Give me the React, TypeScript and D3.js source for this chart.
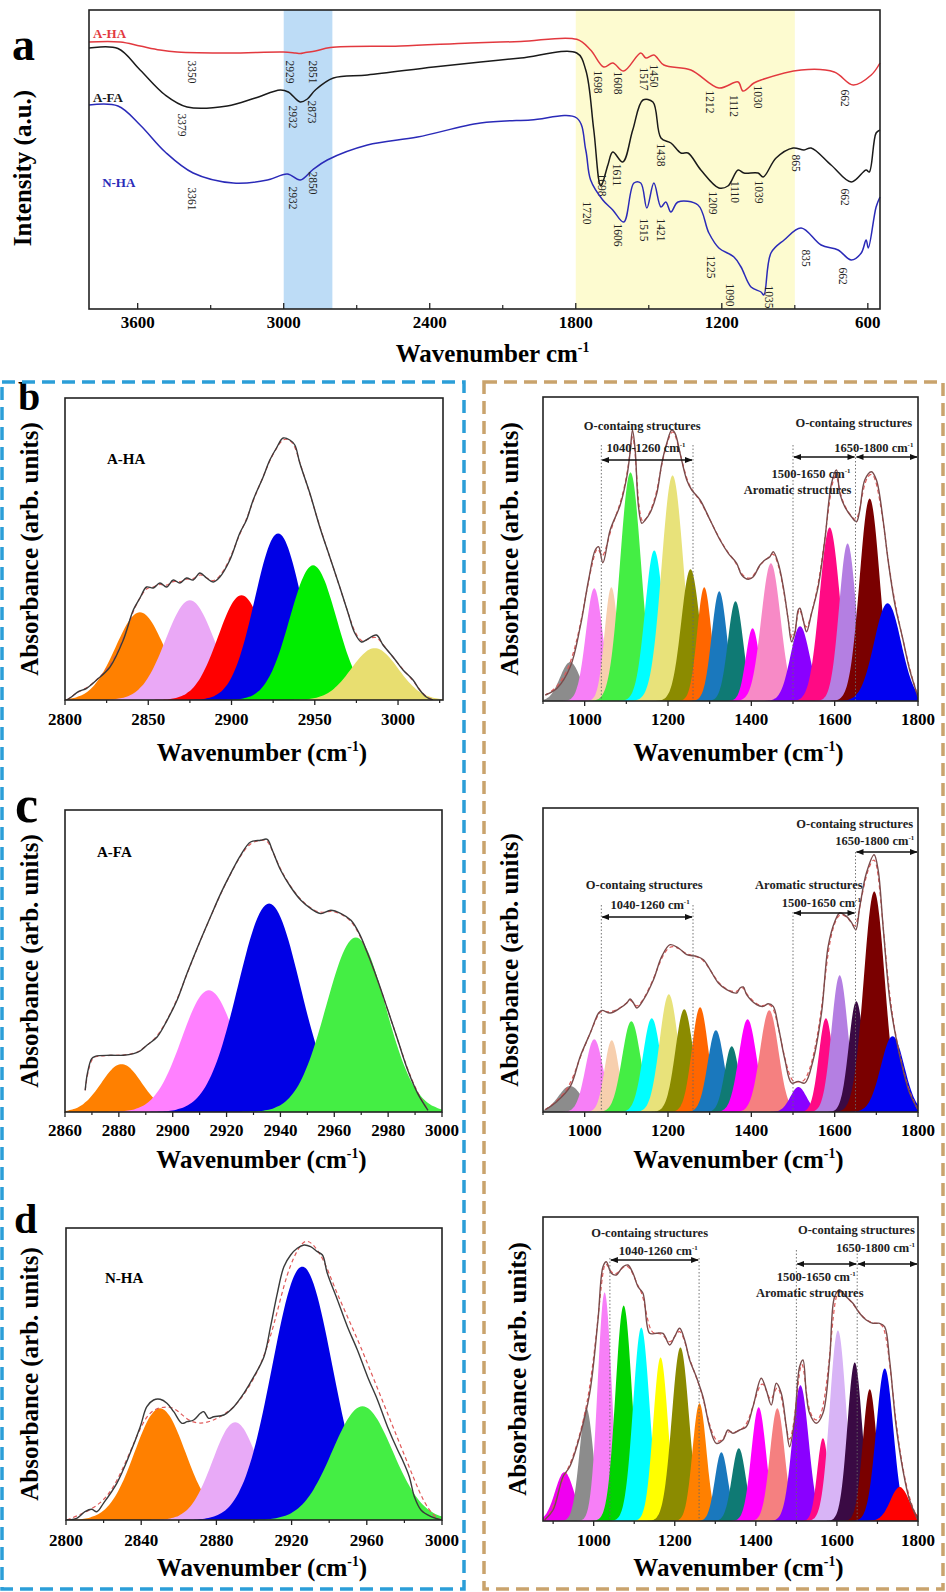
import * as d3 from "d3"
import { useRef, useEffect } from "react"

type P = [number, number]

const serif = "'Liberation Serif','Times New Roman',serif"

// ---------- panel a : FTIR spectra  [wavenumber cm-1, intensity a.u.]
const aHASpectrum: P[] = [[3800,267],[3672,267],[3590,263],[3508,259],[3438,257],[3220,256],[3002,257],[2952,256],[2932,255.5],[2911,256.5],[2870,258],[2808,261.5],[2520,263],[2232,266],[2026,267.5],[1796,269.7],[1739,259],[1685,242],[1648,246],[1603,238],[1533,256],[1512,251],[1479,254],[1438,244],[1327,239],[1212,221],[1133,227],[1113,218],[1068,226],[1039,229],[874,239],[738,237],[660,224],[586,234],[550,246]]
const aFASpectrum: P[] = [[3800,261],[3681,260.5],[3590,239],[3487,214],[3397,202],[3232,203],[3117,211],[3014,219],[2981,217],[2932,207],[2903,210],[2870,219],[2796,231],[2656,234],[2384,242],[2191,247],[2026,251],[1796,256],[1759,239],[1726,179],[1697,123],[1668,144],[1648,157],[1607,147],[1566,179],[1524,209],[1483,207],[1450,171],[1409,166],[1368,156],[1339,156],[1286,139],[1212,121],[1175,123],[1133,139],[1109,136],[1051,136],[1030,132],[977,151],[907,161],[862,159],[833,161],[751,144],[668,127],[607,139],[594,137],[566,176],[550,179]]
const nHASpectrum: P[] = [[3800,204],[3681,203],[3590,184],[3487,157],[3372,136],[3207,126],[3067,129],[2985,135],[2932,129],[2882,139],[2821,149],[2656,164],[2450,172],[2191,186],[1985,189],[1796,191],[1759,159],[1739,129],[1689,109],[1648,99],[1603,87],[1561,126],[1533,126],[1508,101],[1479,126],[1450,102],[1430,107],[1409,97],[1380,107],[1298,104],[1253,76],[1212,61],[1150,52],[1121,42],[1080,22],[1039,17],[1027,14],[998,56],[944,69],[874,81],[792,64],[722,59],[668,49],[627,56],[607,69],[598,61],[566,102],[550,112]]

// band labels: [text, anchor wavenumber, anchor intensity]
const aHABands: [string, number, number][] = [["3350",3376,237],["2929",2973,237],["2851",2878,237],["1698",1710,227],["1608",1627,226],["1517",1520,230],["1450",1479,233],["1212",1249,207],["1112",1150,203],["1030",1051,212],["662",693,211]]
const aFABands: [string, number, number][] = [["3379",3417,184],["2932",2961,192],["2873",2882,197],["1698",1693,124],["1611",1631,134],["1438",1450,154],["1209",1236,106],["1110",1146,117],["1039",1047,117],["865",895,146],["662",693,112]]
const nHABands: [string, number, number][] = [["3361",3376,110],["2932",2961,111],["2850",2878,126],["1720",1755,96],["1606",1627,74],["1515",1520,79],["1421",1450,79],["1225",1245,42],["1090",1166,14],["1035",1006,12],["835",854,51],["662",701,33]]

const aMajorTicks = [3600, 3000, 2400, 1800, 1200, 600]
const aMinorTicks = [3300, 2700, 2100, 1500, 900]

// ---------- fitted panels : observed [wavenumber, absorbance], peaks [centre, height, sigma]
const bLeftObs: P[] = [[2801,0],[2804,3.3],[2808,8.3],[2813,11.7],[2819,20],[2827,33],[2835,60],[2841,90],[2845,102],[2849,113],[2853,112],[2857,117],[2861,113],[2865,120],[2869,117],[2873,122],[2877,120],[2881,127],[2885,122],[2889,118],[2893,123],[2899,140],[2905,167],[2909,180],[2913,200],[2919,223],[2923,240],[2927,252],[2931,262],[2935,260],[2938,255],[2941,237],[2947,207],[2953,173],[2959,143],[2965,113],[2970,87],[2974,67],[2978,58],[2981,60],[2987,65],[2991,55],[2997,43],[3003,30],[3009,20],[3013,10],[3017,3],[3021,0]]
const bLeftPeaks = [[2845,88,14.5],[2875,100,14.5],[2906,105,14],[2928,167,14],[2949,135,14],[2986,52,14]]
const bLeftColors = ["#ff8000","#eaa8f6","#ff0000","#0000e6","#00ee00","#e8de70"]

const bRightObs: P[] = [[905.6,6],[933.5,12.7],[965.5,34.3],[989.4,74.3],[1009.4,121],[1025.4,151],[1033.4,154.3],[1043.7,138.3],[1061.3,171],[1085.3,196],[1101.2,224.3],[1109.2,249.3],[1114.8,271],[1121.2,251],[1129.2,194.3],[1137.2,177.7],[1145.2,181],[1157.1,188.3],[1173.1,207.7],[1185.1,237.7],[1197.1,257.7],[1209.1,271],[1217,267.7],[1229,247.7],[1245,221],[1257,211],[1277,201],[1301,181],[1324.9,161],[1344.8,147.7],[1364.8,137.7],[1376.8,126],[1392.7,121.7],[1404.7,124.3],[1420.7,136],[1432.7,141],[1444.6,144.3],[1452.6,149.3],[1464.6,137.7],[1476.6,114.3],[1488.6,81],[1496.6,59.3],[1504.5,67.7],[1512.5,91],[1516.5,92.7],[1524.5,81],[1532.5,69.3],[1544.5,87.7],[1560.4,114.3],[1576.4,161],[1592.4,217.7],[1604.4,231],[1612.4,207.7],[1624.3,194.3],[1640.3,184.3],[1652.3,179.3],[1660.3,191],[1672.2,221],[1688.2,229.3],[1700.2,221],[1716.2,181],[1728.1,141],[1744.1,97.7],[1764.1,61],[1780.1,31],[1800,4.3]]
const bRightPeaks = [[965,39,24],[1023,113,20],[1064,114,16],[1110,229,25],[1167,151,22],[1211,226,26],[1254,132,22],[1287,114,17],[1323,110,18],[1362,100,18],[1403,73,16],[1447,138,23],[1517,75,23],[1588,174,24],[1631,158,20],[1684,203,24],[1727,98,32]]
const bRightColors = ["#8c8c8c","#f77ff7","#f7cfae","#44ee44","#00ffff","#e8e27a","#8b8b00","#ff6600","#1a78bd","#0f7a74","#ff00ff","#f78ac6","#8a00ff","#ff0a84","#b47fe2","#7a0000","#0000f0"]

const cLeftObs: P[] = [[2867.5,21.7],[2868.3,38.4],[2869.9,53.4],[2871.2,55.7],[2876.8,56.7],[2881.7,56.7],[2885.5,58.4],[2887.9,61],[2890.4,66.7],[2894.2,75],[2897.9,91.7],[2901.6,111.7],[2905.3,138.4],[2910.3,171.7],[2914,195],[2917.8,218.4],[2921.5,238.4],[2925.2,256.7],[2928.9,270],[2932.7,271.7],[2935.1,272.7],[2937,261.7],[2940.1,241.7],[2943.8,225],[2947.6,211.7],[2951.3,203.4],[2955,198.4],[2958.7,201.7],[2962.5,198.4],[2966.2,191.7],[2969.3,178.4],[2972.4,158.4],[2976.1,131.7],[2979.9,101.7],[2983.6,71.7],[2987.3,41.7],[2991,18.4],[2994.8,1.7]]
const cLeftPeaks = [[2881,48,7.5],[2913.4,122,10],[2935.8,209,11.5],[2968,175,11]]
const cLeftColors = ["#ff8000","#ff80ff","#0000e6","#44ee44"]

const cRightObs: P[] = [[905.6,2.3],[933.5,10.6],[965.5,25.6],[989.4,55.6],[1013.4,79],[1033.4,99],[1041.4,101.6],[1061.3,99],[1085.3,104],[1101.2,109],[1109.2,113],[1117.2,109],[1125.2,104],[1141.2,112.3],[1165.1,132.3],[1185.1,155.6],[1205.1,167.3],[1225,164],[1245,157.3],[1269,155.6],[1284.9,152.3],[1300.9,142.3],[1320.9,129],[1340.8,122.3],[1364.8,119],[1372.8,124],[1380.8,125],[1388.7,117.3],[1412.7,107.3],[1428.7,105.6],[1440.6,108.3],[1452.6,105.6],[1464.6,85.6],[1480.6,52.3],[1496.6,29],[1512.5,30.6],[1528.5,29],[1548.5,52.3],[1568.4,99],[1584.4,165.6],[1600.4,190.6],[1612.4,199],[1628.3,195.6],[1640.3,189.6],[1650.7,182.3],[1660.3,205.6],[1676.2,239],[1694.6,257.3],[1704.2,242.3],[1716.2,185.6],[1732.2,112.3],[1748.1,72.3],[1764.1,42.3],[1780.1,19],[1800,2.3]]
const cRightPeaks = [[965,26,28],[1023,73,21],[1065,72,17],[1112,91,22],[1161,94,21],[1202,118,22],[1239,103,21],[1277,105,19.5],[1315,82,19.5],[1353,66,17],[1391,93,21],[1443,102,22],[1513,25,19.5],[1579,94,17],[1612,137,19.5],[1652,111,18],[1695,221,25],[1739,76,28]]
const cRightColors = ["#8c8c8c","#f77ff7","#f7cfae","#44ee44","#00ffff","#e8e27a","#8b8b00","#ff6600","#1a78bd","#0f7a74","#ff00ff","#f58080","#8a00ff","#ff0a84","#b47fe2","#3a0a44","#7a0000","#0000f0"]

const dLeftObs: P[] = [[2800.4,0],[2805.7,1.7],[2810.1,8.3],[2813.7,10.7],[2816.4,8.3],[2819.9,16.7],[2827,36.7],[2834.1,66.7],[2839.5,93.3],[2843,113.3],[2846.6,120],[2850.1,120.7],[2853.7,116.7],[2857.3,108.3],[2861.7,96.7],[2864.4,98.3],[2867.9,100],[2871.5,106.7],[2873.3,108.3],[2875.9,101.7],[2878.6,103.3],[2883.9,105],[2889.3,113.3],[2894.6,126.7],[2899.9,143.3],[2905.3,163.3],[2908.8,193.3],[2912.4,226.7],[2915.9,253.3],[2919.5,265],[2923,271.7],[2926.6,275],[2930.1,273.3],[2933.7,268.3],[2936.4,265],[2939,246.7],[2944.4,220],[2949.7,193.3],[2955,170],[2960.4,143.3],[2965.7,120],[2971,93.3],[2976.4,70],[2979,60],[2982.6,43.3],[2985.3,23.3],[2988.8,10],[2994.2,3.3],[2999.5,0]]
const dLeftFit: P[] = [[2800.4,0],[2818,13.3],[2827,36.7],[2836,76.7],[2843,106.7],[2850.1,113.3],[2857.3,113.3],[2862.6,103.3],[2867.9,96.7],[2875,96.7],[2882.1,103.3],[2889.3,111.7],[2896.4,130],[2903.5,153.3],[2910.6,193.3],[2917.7,250],[2924.8,276.7],[2928.4,280],[2931.9,275],[2937.3,260],[2942.6,233.3],[2949.7,203.3],[2956.8,173.3],[2963.9,140],[2971,106.7],[2978.2,73.3],[2985.3,40],[2990.6,16.7],[2995.9,3.3],[2999.5,0]]
const dLeftPeaks = [[2850,112,13.5],[2890,98,12],[2925.7,254,16],[2957.7,114,16]]
const dLeftColors = ["#ff8000","#e8aaf7","#0000e6","#44ee44"]

const dRightObs: P[] = [[879.1,1],[899.7,11],[924.3,44.3],[940.8,54.3],[965.4,84.3],[990.1,127.7],[1010.6,201],[1023,254.3],[1031.2,259.3],[1043.5,247.7],[1055.8,246],[1072.3,254.3],[1084.6,256],[1097,247.7],[1109.3,234.3],[1121.6,227.7],[1138,187.7],[1154.5,187.7],[1170.9,187.7],[1187.4,176],[1199.7,184.3],[1212,192.7],[1224.4,181],[1236.7,161],[1253.1,144.3],[1269.6,124.3],[1286,94.3],[1302.4,77.7],[1318.9,81],[1331.2,91],[1343.5,87.7],[1360,91],[1376.4,94.3],[1392.9,114.3],[1413.4,142.7],[1425.7,131],[1438.1,116],[1450.4,137.7],[1462.7,127.7],[1475.1,94.3],[1483.3,74.3],[1495.6,101],[1508,154.3],[1516.2,161],[1524.4,127.7],[1532.6,107.7],[1549,97.7],[1565.5,107.7],[1581.9,161],[1594.3,224.3],[1606.6,231],[1623,224.3],[1639.5,217.7],[1655.9,207.7],[1672.3,201],[1688.8,197.7],[1705.2,197.7],[1717.6,194.3],[1729.9,161],[1746.3,94.3],[1762.8,51],[1779.2,21],[1799.8,1]]
const dRightPeaks = [[928,49,23],[982,113,17],[1027,229,17],[1074,216,20],[1117.5,194,20],[1165,164,18],[1214,174,21],[1261,118,17],[1315,69,16],[1358,73,17],[1407,114,18],[1453,113,18],[1510,136,20],[1565.5,83,14],[1602.5,191,20],[1644,159,18],[1681,132,17],[1718,153,21],[1755,34,23]]
const dRightColors = ["#f000f0","#8c8c8c","#f77ff7","#00d400","#00ffff","#ffff00","#8b8b00","#ff8000","#1a78bd","#0f7a74","#ff00ff","#f58080","#8a00ff","#ff0a84","#d8b4f6","#3a0a44","#7a0000","#0000f0","#ff0000"]

// region notes for the 900-1800 panels
const bNotes = {
  dotted: [[1040,256],[1260,256],[1500,256],[1650,254]],
  arrows: [[1040,1260,241],[1500,1650,244],[1650,1800,244]],
  texts: [["O-containg structures",1138,276,false],["1040-1260 cm",1147,254,true],["O-containg structures",1646,279,false],["1650-1800 cm",1694,254,true],["1500-1650 cm",1543,228,true],["Aromatic structures",1511,212,false]],
}
const cNotes = {
  dotted: [[1040,207],[1260,207],[1500,200],[1650,260]],
  arrows: [[1040,1260,195],[1500,1650,199],[1650,1800,260]],
  texts: [["O-containg structures",1143,228,false],["1040-1260 cm",1157,208,true],["Aromatic structures",1538,228,false],["1500-1650 cm",1568,210,true],["O-containg structures",1648,289,false],["1650-1800 cm",1696,272,true]],
}
const dNotes = {
  dotted: [[1040,263],[1260,263],[1500,271],[1650,271]],
  arrows: [[1040,1260,261],[1500,1650,257],[1650,1800,257]],
  texts: [["O-containg structures",1138,289,false],["1040-1260 cm",1159,271,true],["O-containg structures",1648,292,false],["1650-1800 cm",1695,274,true],["1500-1650 cm",1549,245,true],["Aromatic structures",1533,229,false]],
}

const leftLine = "#3a3a3a"
const rightLine = "#7a4b4b"

const panels = [
  { frame: [65,398,443,700], xDomain: [2800,3027], major: [2800,2850,2900,2950,3000], minor: [2825,2875,2925,2975,3025],
    obs: bLeftObs, fit: bLeftObs, peaks: bLeftPeaks, colors: bLeftColors, line: leftLine,
    sample: "A-HA", sampleXY: [42,66], letter: "b", letterXY: [18,410], letterSize: 40,
    tickY: 725, titleY: 761, yTitleX: 38, notes: null },
  { frame: [543,397,918,701], xDomain: [900,1800], major: [1000,1200,1400,1600,1800], minor: [900,1100,1300,1500,1700],
    obs: bRightObs, fit: bRightObs, peaks: bRightPeaks, colors: bRightColors, line: rightLine,
    tickY: 725, titleY: 761, yTitleX: 518, notes: bNotes },
  { frame: [65,810,442,1112], xDomain: [2860,3000], major: [2860,2880,2900,2920,2940,2960,2980,3000], minor: [2870,2890,2910,2930,2950,2970,2990],
    obs: cLeftObs, fit: cLeftObs, peaks: cLeftPeaks, colors: cLeftColors, line: leftLine,
    sample: "A-FA", sampleXY: [32,47], letter: "c", letterXY: [15,822], letterSize: 52,
    tickY: 1136, titleY: 1168, yTitleX: 38, notes: null },
  { frame: [543,808,918,1112], xDomain: [900,1800], major: [1000,1200,1400,1600,1800], minor: [900,1100,1300,1500,1700],
    obs: cRightObs, fit: cRightObs, peaks: cRightPeaks, colors: cRightColors, line: rightLine,
    tickY: 1136, titleY: 1168, yTitleX: 518, notes: cNotes },
  { frame: [66,1228,442,1520], xDomain: [2800,3000], major: [2800,2840,2880,2920,2960,3000], minor: [2820,2860,2900,2940,2980],
    obs: dLeftObs, fit: dLeftFit, peaks: dLeftPeaks, colors: dLeftColors, line: leftLine,
    sample: "N-HA", sampleXY: [39,55], letter: "d", letterXY: [14,1233], letterSize: 42,
    tickY: 1546, titleY: 1576, yTitleX: 38, notes: null },
  { frame: [543,1217,918,1521], xDomain: [875,1800], major: [1000,1200,1400,1600,1800], minor: [900,1100,1300,1500,1700],
    obs: dRightObs, fit: dRightObs, peaks: dRightPeaks, colors: dRightColors, line: rightLine,
    tickY: 1546, titleY: 1576, yTitleX: 526, notes: dNotes },
]

function gaussian(c: number, h: number, s: number): P[] {
  return d3.range(c - 4 * s, c + 4 * s + 0.01, s / 8).map((w) => [w, h * Math.exp(-((w - c) ** 2) / (2 * s * s))] as P)
}

function supText(sel: any, main: string, after: string, size: number) {
  const t = sel.append("text")
  t.append("tspan").text(main)
  t.append("tspan").text("-1").attr("font-size", size * 0.55).attr("dy", -size * 0.4)
  if (after) t.append("tspan").text(after).attr("font-size", size).attr("dy", size * 0.4)
  return t
}

function drawPanelA(svg: any) {
  const x0 = 89, y0 = 10, x1 = 880, y1 = 309
  const x = d3.scaleLinear().domain([3800, 550]).range([x0, x1])
  const y = d3.scaleLinear().domain([0, 299]).range([y1, y0])
  const g = svg.append("g")

  g.append("rect").attr("x", x(3000)).attr("y", y0).attr("width", x(2800) - x(3000)).attr("height", y1 - y0).attr("fill", "#bddcf6")
  g.append("rect").attr("x", x(1800)).attr("y", y0).attr("width", x(900) - x(1800)).attr("height", y1 - y0).attr("fill", "#fdfbd0")

  const line = d3.line<P>().x((d) => x(d[0])).y((d) => y(d[1])).curve(d3.curveCatmullRom.alpha(0.5))
  const series = [
    [aHASpectrum, "#e2393f", aHABands, "A-HA", 3784, 271],
    [aFASpectrum, "#1a1a1a", aFABands, "A-FA", 3784, 207],
    [nHASpectrum, "#2a2ab8", nHABands, "N-HA", 3746, 122],
  ]
  series.forEach(([data, color, bands, name, nx, ny]: any) => {
    g.append("path").attr("d", line(data)).attr("fill", "none").attr("stroke", color).attr("stroke-width", 1.5)
    g.append("text").attr("x", x(nx)).attr("y", y(ny)).text(name)
      .attr("fill", color).attr("font-family", serif).attr("font-weight", "bold").attr("font-size", 13)
    bands.forEach(([t, w, v]: any) => {
      g.append("text").text(t)
        .attr("transform", `translate(${x(w)},${y(v)}) rotate(90)`)
        .attr("text-anchor", "middle").attr("dominant-baseline", "central")
        .attr("font-family", serif).attr("font-size", 11.5).attr("fill", "#222")
    })
  })

  g.append("rect").attr("x", x0).attr("y", y0).attr("width", x1 - x0).attr("height", y1 - y0)
    .attr("fill", "none").attr("stroke", "#222").attr("stroke-width", 1.6)

  aMajorTicks.forEach((t) => {
    g.append("line").attr("x1", x(t)).attr("x2", x(t)).attr("y1", y1).attr("y2", y1 - 6).attr("stroke", "#222").attr("stroke-width", 1.3)
    g.append("text").attr("x", x(t)).attr("y", 328).text(t).attr("text-anchor", "middle")
      .attr("font-family", serif).attr("font-weight", "bold").attr("font-size", 17)
  })
  aMinorTicks.forEach((t) => {
    g.append("line").attr("x1", x(t)).attr("x2", x(t)).attr("y1", y1).attr("y2", y1 - 4).attr("stroke", "#222").attr("stroke-width", 1.2)
  })

  supText(g, "Wavenumber cm", "", 25).attr("x", (x0 + x1) / 2 + 8).attr("y", 362).attr("text-anchor", "middle")
    .attr("font-family", serif).attr("font-weight", "bold").attr("font-size", 25)

  g.append("text").text("Intensity (a.u.)").attr("transform", "translate(31,168) rotate(-90)")
    .attr("text-anchor", "middle").attr("font-family", serif).attr("font-weight", "bold").attr("font-size", 25)

  g.append("text").text("a").attr("x", 12).attr("y", 60).attr("font-family", serif).attr("font-weight", "bold").attr("font-size", 46)
}

function drawFitPanel(svg: any, p: any, i: number) {
  const [x0, y0, x1, y1] = p.frame
  const x = d3.scaleLinear().domain(p.xDomain).range([x0, x1])
  const y = d3.scaleLinear().domain([0, y1 - y0]).range([y1, y0])
  const g = svg.append("g")

  svg.select("defs").append("clipPath").attr("id", `clip${i}`)
    .append("rect").attr("x", x0).attr("y", y0).attr("width", x1 - x0).attr("height", y1 - y0)
  const plot = g.append("g").attr("clip-path", `url(#clip${i})`)

  const area = d3.area<P>().x((d) => x(d[0])).y0(y(0)).y1((d) => y(d[1])).curve(d3.curveBasis)
  p.peaks.forEach(([c, h, s]: number[], j: number) => {
    plot.append("path").attr("d", area(gaussian(c, h, s))).attr("fill", p.colors[j])
  })

  const smooth = d3.line<P>().x((d) => x(d[0])).y((d) => y(d[1])).curve(d3.curveBasis)
  const line = d3.line<P>().x((d) => x(d[0])).y((d) => y(d[1])).curve(d3.curveCatmullRom.alpha(0.5))
  plot.append("path").attr("d", smooth(p.fit)).attr("fill", "none").attr("stroke", "#e05a5a")
    .attr("stroke-width", 1.2).attr("stroke-dasharray", "4,3")
  plot.append("path").attr("d", line(p.obs)).attr("fill", "none").attr("stroke", p.line).attr("stroke-width", 1.4)

  if (p.notes) {
    p.notes.dotted.forEach(([w, v]: number[]) => {
      plot.append("line").attr("x1", x(w)).attr("x2", x(w)).attr("y1", y(v)).attr("y2", y1)
        .attr("stroke", "#666").attr("stroke-width", 0.9).attr("stroke-dasharray", "1.5,2")
    })
    p.notes.arrows.forEach(([a, b, v]: number[]) => {
      g.append("line").attr("x1", x(a) + 1).attr("x2", x(b) - 1).attr("y1", y(v)).attr("y2", y(v))
        .attr("stroke", "#111").attr("stroke-width", 1.3)
        .attr("marker-start", "url(#arrow)").attr("marker-end", "url(#arrow)")
    })
    p.notes.texts.forEach(([t, w, v, sup]: any) => {
      const el = sup ? supText(g, t, "", 12.5) : g.append("text").text(t)
      el.attr("x", x(w)).attr("y", y(v) + 4.5).attr("text-anchor", "middle")
        .attr("font-family", serif).attr("font-weight", "bold").attr("font-size", 12.5).attr("fill", "#222")
    })
  }

  g.append("rect").attr("x", x0).attr("y", y0).attr("width", x1 - x0).attr("height", y1 - y0)
    .attr("fill", "none").attr("stroke", "#222").attr("stroke-width", 1.6)

  p.major.forEach((t: number) => {
    g.append("line").attr("x1", x(t)).attr("x2", x(t)).attr("y1", y1).attr("y2", y1 + 5).attr("stroke", "#222").attr("stroke-width", 1.3)
    g.append("text").attr("x", x(t)).attr("y", p.tickY).text(t).attr("text-anchor", "middle")
      .attr("font-family", serif).attr("font-weight", "bold").attr("font-size", 17)
  })
  p.minor.forEach((t: number) => {
    g.append("line").attr("x1", x(t)).attr("x2", x(t)).attr("y1", y1).attr("y2", y1 + 3).attr("stroke", "#222").attr("stroke-width", 1.2)
  })

  supText(g, "Wavenumber (cm", ")", 25).attr("x", (x0 + x1) / 2 + 8).attr("y", p.titleY).attr("text-anchor", "middle")
    .attr("font-family", serif).attr("font-weight", "bold").attr("font-size", 25)

  g.append("text").text("Absorbance (arb. units)").attr("transform", `translate(${p.yTitleX},${(y0 + y1) / 2}) rotate(-90)`)
    .attr("text-anchor", "middle").attr("font-family", serif).attr("font-weight", "bold").attr("font-size", 25)

  if (p.sample) {
    g.append("text").text(p.sample).attr("x", x0 + p.sampleXY[0]).attr("y", y0 + p.sampleXY[1])
      .attr("font-family", serif).attr("font-weight", "bold").attr("font-size", 15)
  }
  if (p.letter) {
    g.append("text").text(p.letter).attr("x", p.letterXY[0]).attr("y", p.letterXY[1])
      .attr("font-family", serif).attr("font-weight", "bold").attr("font-size", p.letterSize)
  }
}

export default function App() {
  const ref = useRef<SVGSVGElement>(null)

  useEffect(() => {
    const svg = d3.select(ref.current)
    svg.selectAll("*").remove()
    const defs = svg.append("defs")
    defs.append("marker").attr("id", "arrow").attr("viewBox", "0 0 10 10").attr("refX", 9).attr("refY", 5)
      .attr("markerWidth", 6).attr("markerHeight", 6).attr("orient", "auto-start-reverse")
      .append("path").attr("d", "M0,1 L10,5 L0,9 Z").attr("fill", "#111")

    drawPanelA(svg)
    panels.forEach((p, i) => drawFitPanel(svg, p, i))

    // dashed group boxes
    svg.append("rect").attr("x", 2).attr("y", 382).attr("width", 462).attr("height", 1207)
      .attr("fill", "none").attr("stroke", "#2b9ed8").attr("stroke-width", 3.5).attr("stroke-dasharray", "13,7")
    svg.append("rect").attr("x", 484).attr("y", 382).attr("width", 459).attr("height", 1207)
      .attr("fill", "none").attr("stroke", "#c9a36c").attr("stroke-width", 3.5).attr("stroke-dasharray", "13,7")
  }, [])

  return (
    <svg ref={ref} width={946} height={1592} style={{ position: "absolute", left: 0, top: 0, background: "#fff" }}></svg>
  )
}
